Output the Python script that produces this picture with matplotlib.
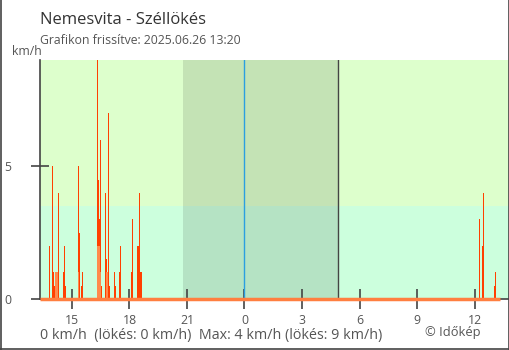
import matplotlib
matplotlib.use("Agg")
import matplotlib.pyplot as plt
from matplotlib.lines import Line2D

plt.rcParams["font.family"] = ["Open Sans", "DejaVu Sans"]

TITLE = "Nemesvita - Széllökés"
UPDATED = "Grafikon frissítve: 2025.06.26 13:20"
SUMMARY = "0 km/h  (lökés: 0 km/h)  Max: 4 km/h (lökés: 9 km/h)"
CREDIT = "© Időkép"
UNIT = "km/h"

# idő: órák éjfélhez képest (negatív = előző nap)
START = -10.667          # 13:20 előző nap
END = 13.333             # 13:20
SUNSET = -3.2
SUNRISE = 4.89
GUST_ZONE = 3.5
Y_MAX = 9

# széllökés (km/h)
gust_t = [-10.16, -10.01, -9.95, -9.90, -9.69, -9.43, -9.38, -9.33,
          -8.65, -8.60, -8.49, -8.44, -7.67, -7.62, -7.56, -7.51, -7.46,
          -7.24, -7.20, -7.16, -7.08, -7.03, -6.77, -6.72, -6.51, -6.46,
          -5.88, -5.83, -5.57, -5.52, -5.46, -5.41, -5.36,
          12.27, 12.43, 12.47, 13.05, 13.10]
gust_v = [2, 5, 1, 0.5, 4, 1, 2, 0.5,
          5, 2.5, 0.5, 1, 9, 4.5, 3, 6, 0.5,
          4, 1.5, 0.5, 7, 0.5, 1, 0.5, 1, 2,
          1, 3, 2, 2, 4, 1, 1,
          3, 2, 4, 0.5, 1]

# átlagos szélsebesség (km/h)
avg_t = [-9.85, -9.80, -9.74, -8.68, -7.66, -7.61, -7.55, -7.50, -7.19, -7.14]
avg_v = [1, 1, 1, 1, 2, 2, 2, 1, 1, 1]

tick_pos = [-9, -6, -3, 0, 3, 6, 9, 12]
tick_lab = ["15", "18", "21", "0", "3", "6", "9", "12"]

W, H = 510, 350
PX_PER_H = 19.17

fig = plt.figure(figsize=(W / 100, H / 100), dpi=100)
ax = fig.add_axes([40 / W, 51 / H, 469 / W, 239 / H])
ax.set_xlim(START, START + 469 / PX_PER_H)
ax.set_ylim(0, Y_MAX)

# háttér sávok + éjszaka
ax.axhspan(GUST_ZONE, Y_MAX, color="#ddffcc", lw=0, zorder=0)
ax.axhspan(0, GUST_ZONE, color="#ccffdd", lw=0, zorder=0)
ax.axvspan(SUNSET, SUNRISE, color="black", alpha=0.11, lw=0, zorder=1)
ax.axvline(0, color="#2b9fe0", lw=1, zorder=2)
ax.axvline(SUNRISE, color="#444444", lw=1.0, zorder=2)

ax.bar(gust_t, gust_v, width=0.055, color="#ff4000", lw=0, zorder=3)
ax.bar(avg_t, avg_v, width=0.055, color="#ff8a4c", lw=0, zorder=4)
ax.plot([START, END], [0, 0], color="#ff7f40", lw=2.5,
        solid_capstyle="butt", zorder=5, clip_on=False)

for side in ("top", "right"):
    ax.spines[side].set_visible(False)
for side in ("left", "bottom"):
    ax.spines[side].set_color("#444444")
    ax.spines[side].set_linewidth(1.2)

ax.set_yticks([0, 5])
ax.set_yticklabels(["0", "5"])
ax.set_xticks(tick_pos)
ax.set_xticklabels(tick_lab)
ax.tick_params(axis="y", direction="inout", length=13, width=1.2,
               color="#444444", labelcolor="#555555", labelsize=8.8, pad=14)
ax.tick_params(axis="x", direction="inout", length=14, width=1.2,
               color="#444444", labelcolor="#555555", labelsize=8.8, pad=4)

# feliratok
fig.text(40 / W, 1 - 24 / H, TITLE, fontsize=12, color="#333333", va="baseline")
fig.text(40 / W, 1 - 44 / H, UPDATED, fontsize=8.8, color="#555555", va="baseline")
fig.text(12 / W, 1 - 55 / H, UNIT, fontsize=8.8, color="#555555", va="baseline")
fig.text(40 / W, 1 - 339 / H, SUMMARY, fontsize=10.3, color="#555555", va="baseline")
fig.text(425 / W, 1 - 336 / H, CREDIT, fontsize=9.3, color="#555555", va="baseline")

# keret
for xs, ys in (([0.5 / W, 0.5 / W], [0, 1]),
               ([509.5 / W, 509.5 / W], [0, 1]),
               ([0, 1], [1.5 / H, 1.5 / H])):
    fig.add_artist(Line2D(xs, ys, color="#444444", lw=1.2))

fig.savefig("out.png", dpi=100)
